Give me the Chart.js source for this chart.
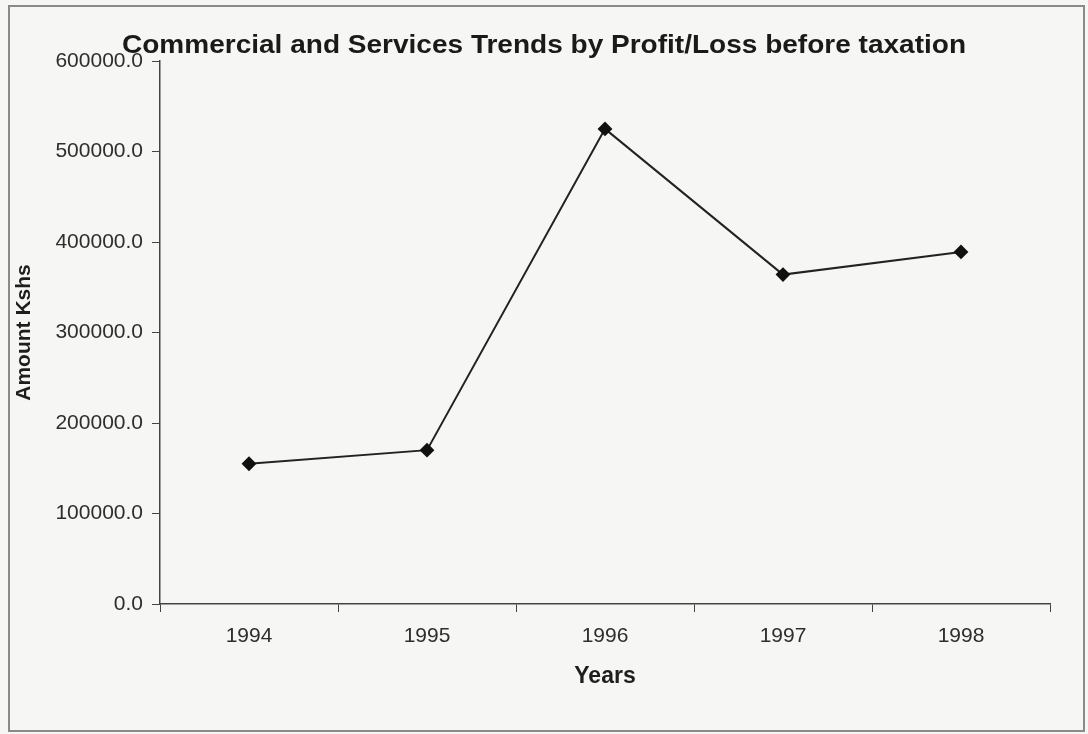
<!DOCTYPE html>
<html>
<head>
<meta charset="utf-8">
<title>Commercial and Services Trends</title>
<script src="https://cdn.jsdelivr.net/npm/chart.js@4.4.0/dist/chart.umd.min.js"></script>
<style>
  html, body { margin: 0; padding: 0; background: #f6f6f5; }
  #wrap { width: 1088px; height: 734px; position: relative; }
</style>
</head>
<body>
<div id="wrap"><canvas id="chartTrend"></canvas></div>
<script>
// profit/loss before taxation, Kshs
var years  = ['1994', '1995', '1996', '1997', '1998'];
var profit = [155000, 170000, 525000, 364000, 389000];
var yTicks = [0, 100000, 200000, 300000, 400000, 500000, 600000];

var TITLE = 'Commercial and Services Trends by Profit/Loss before taxation';
var FONT  = "'Liberation Sans', Arial, sans-serif";

// outer frame + title drawn over the plot top
var framePlugin = {
  id: 'frame',
  beforeDraw: function(chart) {
    var ctx = chart.ctx;
    ctx.save();
    ctx.fillStyle = '#f6f6f5';
    ctx.fillRect(0, 0, chart.width, chart.height);
    ctx.strokeStyle = '#8a8a8a';
    ctx.lineWidth = 2;
    ctx.strokeRect(9, 6, chart.width - 13, chart.height - 9);
    ctx.restore();
  },
  afterDraw: function(chart) {
    var ctx = chart.ctx;
    ctx.save();
    ctx.font = 'bold 25px ' + FONT;
    ctx.fillStyle = '#1a1a1a';
    ctx.textAlign = 'center';
    ctx.textBaseline = 'middle';
    // title in the source is a little wider than plain Arial
    ctx.translate(544, 46);
    ctx.scale(844 / ctx.measureText(TITLE).width, 1);
    ctx.fillText(TITLE, 0, 0);
    ctx.restore();
  }
};

new Chart(document.getElementById('chartTrend'), {
  type: 'line',
  data: {
    labels: years,
    datasets: [{
      label: 'Profit/Loss before taxation',
      data: profit,
      borderColor: '#222',
      borderWidth: 2,
      pointStyle: 'rectRot',
      pointRadius: 6,
      pointBackgroundColor: '#111',
      pointBorderColor: '#111',
      tension: 0
    }]
  },
  options: {
    responsive: true,
    maintainAspectRatio: false,
    animation: false,
    layout: { padding: { top: 61, right: 38, bottom: 0, left: 0 } },
    plugins: { legend: { display: false }, tooltip: { enabled: false } },
    scales: {
      x: {
        offset: true,
        grid: { drawOnChartArea: false, drawTicks: true, tickLength: 8, color: '#444', offset: true },
        border: { color: '#444', width: 1.5 },
        ticks: { color: '#2e2e2e', font: { family: FONT, size: 21 }, padding: 12 },
        title: { display: true, text: 'Years', color: '#1e1e1e', font: { family: FONT, size: 23, weight: 'bold' }, padding: 44 },
        afterFit: function(s) { s.height = 130; }
      },
      y: {
        min: 0,
        max: 600000,
        afterBuildTicks: function(s) { s.ticks = yTicks.map(function(v) { return { value: v }; }); },
        grid: { drawOnChartArea: false, drawTicks: true, tickLength: 8, color: '#444' },
        border: { color: '#444', width: 1.5 },
        ticks: {
          color: '#2e2e2e',
          font: { family: FONT, size: 21 },
          padding: 9,
          callback: function(v) { return v.toFixed(1); }
        },
        title: { display: true, text: 'Amount Kshs', color: '#1e1e1e', font: { family: FONT, size: 21, weight: 'bold' }, padding: 12 },
        afterFit: function(s) { s.width = 160; }
      }
    }
  },
  plugins: [framePlugin]
});
</script>
</body>
</html>
